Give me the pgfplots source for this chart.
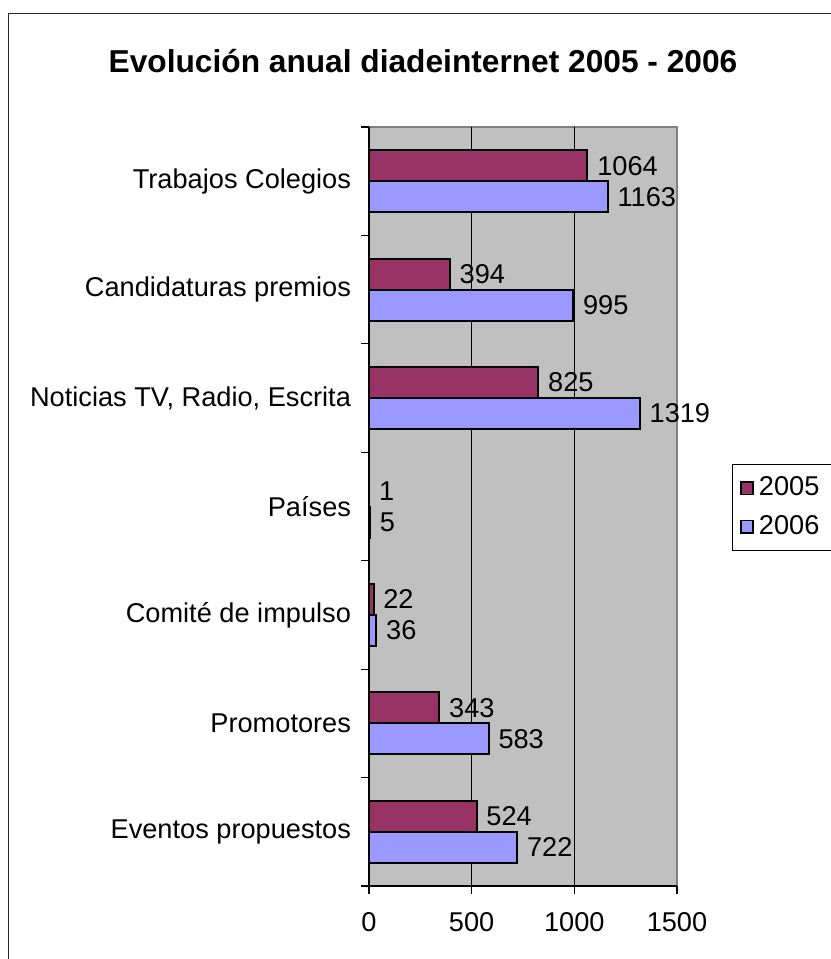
\documentclass[border=0pt]{standalone}
\usepackage{fontspec}
\setmainfont{Liberation Sans}
\usepackage{pgfplots}
\pgfplotsset{compat=1.18}
\definecolor{c2005}{HTML}{993366}
\definecolor{c2006}{HTML}{9999FF}
\definecolor{plotbg}{HTML}{C0C0C0}
\definecolor{plotedge}{HTML}{808080}

\begin{document}
\begin{tikzpicture}
% 1 px of the reference = 0.3788pt
\useasboundingbox (0,0) rectangle (314.78pt,-363.27pt);
\draw[line width=0.4pt, black!85] (3.14pt,-5.04pt) rectangle (340pt,-380pt);

\node[anchor=base, font=\bfseries\fontsize{12}{14}\selectfont, inner sep=0pt]
  at (160.23pt,-27.6pt) {Evolución anual diadeinternet 2005 - 2006};

\begin{axis}[
  at={(139.78pt,-335.62pt)}, anchor=south west,
  scale only axis, width=116.67pt, height=287.51pt,
  xbar, bar width=0.286,
  xmin=0, xmax=1500, ymin=-0.5, ymax=6.5,
  clip=false,
  axis background/.style={fill=plotbg, draw=plotedge, line width=0.4pt},
  axis x line*=bottom, axis y line*=left,
  axis line style={black, line width=0.4pt},
  tick align=outside, major tick length=3pt,
  tick style={black, line width=0.4pt},
  xtick={0,500,1000,1500},
  xticklabel style={yshift=-3.6pt},
  extra x ticks={500,1000}, extra x tick labels={},
  extra x tick style={grid=major, major grid style={black, line width=0.4pt}},
  ytick={-0.5,0.5,...,6.5}, yticklabels={},
  extra y ticks={0,1,2,3,4,5,6},
  extra y tick labels={Eventos propuestos, Promotores, Comité de impulso, Países,
    {Noticias TV, Radio, Escrita}, Candidaturas premios, Trabajos Colegios},
  extra y tick style={tick style={draw=none},
    yticklabel style={font=\fontsize{10.3}{12}\selectfont, xshift=-0.3pt}},
  ticklabel style={font=\fontsize{10.3}{12}\selectfont},
  /pgf/number format/assume math mode=true,
  /pgf/number format/1000 sep={},
  nodes near coords,
  every node near coord/.append style={font=\fontsize{10.3}{12}\selectfont, anchor=west, black},
  legend style={at={(1.1786,0.556)}, anchor=north west, draw=black, line width=0.4pt,
    font=\fontsize{10.3}{12}\selectfont, row sep=2pt, inner xsep=3pt, inner ysep=2.6pt,
    legend cell align=left},
  legend image code/.code={\draw[#1, line width=0.6pt] (0pt,-2.4pt) rectangle (4.4pt,2.4pt);},
]
\addplot[fill=c2005, draw=black, line width=0.75pt, bar shift=0.143] coordinates {
  (524,0) (343,1) (22,2) (1,3) (825,4) (394,5) (1064,6)
};
\addlegendentry{2005}
\addplot[fill=c2006, draw=black, line width=0.75pt, bar shift=-0.143] coordinates {
  (722,0) (583,1) (36,2) (5,3) (1319,4) (995,5) (1163,6)
};
\addlegendentry{2006}
\end{axis}
\end{tikzpicture}
\end{document}
